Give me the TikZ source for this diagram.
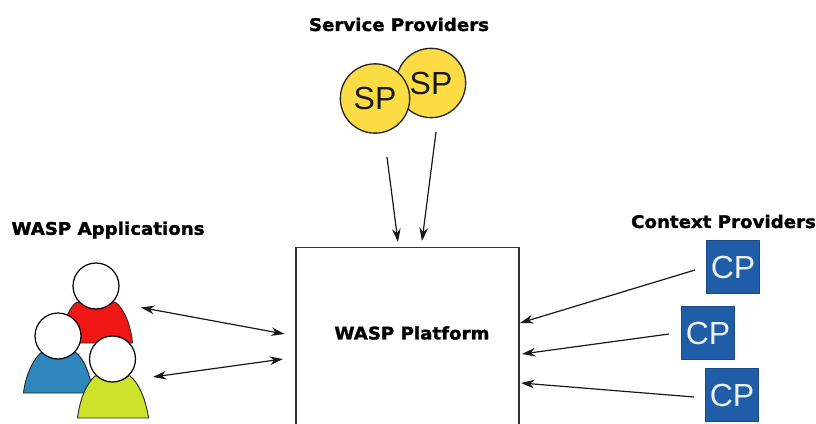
\documentclass[tikz,border=0pt]{standalone}
\usepackage{fontspec}
\setmainfont{Liberation Sans}
\newfontfamily\headfont[FakeStretch=1.05,FakeBold=1.6]{DejaVu Sans Bold}
\usetikzlibrary{arrows.meta}
\definecolor{spyellow}{HTML}{FBDC45}
\definecolor{cpblue}{HTML}{1F5DA8}
\definecolor{pred}{HTML}{F01616}
\definecolor{pblue}{HTML}{2F86BD}
\definecolor{pgreen}{HTML}{CDE22A}
\tikzset{
  x=0.75pt,y=-0.75pt,
  title/.style={font=\headfont\fontsize{13pt}{15pt}\selectfont,inner sep=0pt,text=black},
  sp/.style={circle,draw=black!85,line width=1pt,fill=spyellow,minimum size=52pt,inner sep=0pt,font=\fontsize{24pt}{26pt}\selectfont,text=black!90},
  cp/.style={rectangle,fill=cpblue,draw=cpblue!80!black,line width=0.4pt,minimum size=40pt,inner sep=0pt,font=\fontsize{24pt}{26pt}\selectfont,text=white!92!cpblue},
  head/.style={circle,draw=black,line width=0.9pt,fill=white,minimum size=34.5pt,inner sep=0pt},
  body/.style={draw=black!85,line width=0.7pt},
  conn/.style={-{Stealth[length=10pt,width=6.5pt]},line width=0.9pt,black!90},
  biconn/.style={{Stealth[length=10pt,width=6.5pt]}-{Stealth[length=10pt,width=6.5pt]},line width=0.9pt,black!90},
  platform/.style={draw=black!80,line width=0.9pt}
}
\begin{document}
\begin{tikzpicture}
\useasboundingbox (0,0) rectangle (816,424);
% titles
\node[title] (tsp) at (399,24.5) {Service Providers};
\node[title] (tapp) at (108,230) {WASP Applications};
\node[title] (tcp) at (723.5,221.5) {Context Providers};
% service providers
\node[sp] (sp2) at (431,83) {SP};
\node[sp] (sp1) at (375,98.5) {SP};
% platform
\draw[platform] (296,424) -- (296,247.5) -- (519,247.5) -- (519,424);
\node[title] (wasp) at (412,333) {WASP Platform};
% people
\path[fill=pred,body] (60,343) .. controls (63,322) and (70,306) .. (77,302) -- (115,302) .. controls (124,308) and (131,326) .. (132.5,343) -- cycle;
\node[head] (hred) at (96,286) {};
\path[fill=pblue,body] (23.5,393) .. controls (26,372) and (35,357) .. (42,352) -- (75,352) .. controls (84,358) and (90,374) .. (93,393) -- cycle;
\node[head] (hblue) at (58,336) {};
\path[fill=pgreen,body] (77.5,418) .. controls (80,398) and (87,383) .. (95,376) -- (130,376) .. controls (139,383) and (146,400) .. (148.5,418) -- cycle;
\node[head] (hgreen) at (112.5,359) {};
% context providers
\node[cp] (cp1) at (733,267) {CP};
\node[cp] (cp2) at (708,333) {CP};
\node[cp] (cp3) at (732,395) {CP};
% connector ends
\coordinate (a1s) at (141,307.5);
\coordinate (a1e) at (284.5,334);
\coordinate (a2s) at (153,377);
\coordinate (a2e) at (283,359);
\coordinate (s1s) at (387,157);
\coordinate (s1e) at (398,242);
\coordinate (s2s) at (436,132);
\coordinate (s2e) at (422,241);
\coordinate (c1s) at (695,270);
\coordinate (c1e) at (520,323);
\coordinate (c2s) at (669,334);
\coordinate (c2e) at (522,354);
\coordinate (c3s) at (694,397);
\coordinate (c3e) at (521,383);
\draw[biconn] (a1s) -- (a1e);
\draw[biconn] (a2s) -- (a2e);
\draw[conn] (s1s) -- (s1e);
\draw[conn] (s2s) -- (s2e);
\draw[conn] (c1s) -- (c1e);
\draw[conn] (c2s) -- (c2e);
\draw[conn] (c3s) -- (c3e);
\end{tikzpicture}
\end{document}
